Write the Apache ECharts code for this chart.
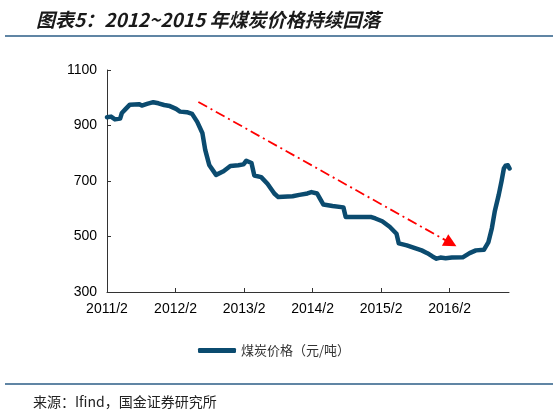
<!DOCTYPE html>
<html>
<head>
<meta charset="utf-8">
<script src="https://cdn.jsdelivr.net/npm/echarts@6/dist/echarts.min.js"></script>
<style>
  html, body { margin: 0; padding: 0; background: #fff; }
  #main { width: 559px; height: 417px; }
</style>
</head>
<body>
<div id="main"></div>
<script>
// x = months since 2011/2
var months = [0, 0.7, 1.4, 2.3, 2.6, 3.2, 4.0, 5.6, 6.1, 7.0, 8.1, 9.0, 10.0, 11.0, 12.1, 12.8,
    14.0, 14.9, 15.8, 16.7, 17.2, 17.9, 19.1, 20.4, 21.6, 23.0, 23.9, 24.4, 25.3, 25.8, 27.0,
    28.1, 29.3, 30.0, 32.5, 33.7, 35.1, 35.8, 36.8, 37.2, 37.9, 39.5, 41.4, 41.8, 46.3, 47.0,
    48.2, 49.5, 50.7, 51.1, 52.5, 55.1, 56.1, 57.0, 57.7, 58.4, 59.3, 60.4, 62.3, 63.5, 64.6,
    66.0, 66.8, 67.4, 67.9, 68.6, 69.1, 69.5, 69.8, 70.2, 70.5];
var prices = [930, 932, 922, 925, 945, 958, 975, 977, 972, 978, 984, 980, 974, 970, 960, 950,
    948, 942, 913, 873, 812, 758, 722, 735, 754, 757, 760, 773, 765, 720, 714,
    690, 655, 642, 645, 650, 655, 660, 655, 640, 615, 610, 605, 570, 570, 565,
    555, 535, 510, 475, 468, 450, 440, 428, 420, 424, 422, 424, 425, 440, 450,
    452, 480, 530, 590, 650, 700, 745, 755, 757, 745];
var tickMonths = [0, 12, 24, 36, 48, 60];
var tickLabels = ['2011/2', '2012/2', '2013/2', '2014/2', '2015/2', '2016/2'];
var trendFrom = [16.0, 985];
var trendTo = [60.2, 476];

var seriesData = [];
for (var i = 0; i < months.length; i++) {
    seriesData.push([months[i], prices[i]]);
}

var chart = echarts.init(document.getElementById('main'));
var option = {
    backgroundColor: '#fff',
    animation: false,
    title: {
        text: '图表5：2012~2015 年煤炭价格持续回落',
        left: 31,
        top: 5,
        textStyle: {
            fontFamily: 'Noto Sans CJK SC',
            fontSize: 19,
            fontStyle: 'italic',
            fontWeight: 'bold',
            color: '#1a1a1a'
        }
    },
    grid: { left: 107, right: 50, top: 70, bottom: 125 },
    legend: {
        data: ['煤炭价格（元/吨）'],
        left: 193,
        top: 339,
        icon: 'roundRect',
        itemWidth: 38,
        itemHeight: 5,
        itemGap: 5,
        textStyle: { fontFamily: 'Noto Sans CJK SC', fontSize: 13, color: '#333' }
    },
    xAxis: {
        type: 'value',
        min: 0,
        max: 70.4,
        splitLine: { show: false },
        axisLine: { lineStyle: { color: '#333', width: 1 } },
        axisTick: { inside: true, length: 4, customValues: tickMonths, lineStyle: { color: '#333' } },
        axisLabel: {
            customValues: tickMonths,
            formatter: function (v) {
                var idx = tickMonths.indexOf(v);
                return idx >= 0 ? tickLabels[idx] : '';
            },
            fontFamily: 'Liberation Sans',
            fontSize: 14,
            color: '#000',
            margin: 10
        }
    },
    yAxis: {
        type: 'value',
        min: 300,
        max: 1100,
        interval: 200,
        splitLine: { show: false },
        axisLine: { show: true, lineStyle: { color: '#333', width: 1 } },
        axisTick: { show: true, inside: true, length: 4, lineStyle: { color: '#333' } },
        axisLabel: {
            formatter: function (v) { return String(v); },
            fontFamily: 'Liberation Sans', fontSize: 14, color: '#000', margin: 10
        }
    },
    series: [{
        name: '煤炭价格（元/吨）',
        type: 'line',
        data: seriesData,
        showSymbol: false,
        color: '#0b4b6f',
        lineStyle: { width: 4.5, color: '#0b4b6f', join: 'round', cap: 'round' },
        markLine: {
            silent: true,
            symbol: ['none', 'triangle'],
            symbolSize: 13,
            label: { show: false },
            lineStyle: { color: '#ff0000', width: 1.8, type: [10, 4, 2, 4] },
            itemStyle: { color: '#ff0000' },
            data: [[{ coord: trendFrom }, { coord: trendTo }]]
        }
    }],
    graphic: [
        { type: 'line', shape: { x1: 5, y1: 36, x2: 553, y2: 36 }, style: { stroke: '#2b5d86', lineWidth: 1.5 } },
        { type: 'line', shape: { x1: 5, y1: 384, x2: 553, y2: 384 }, style: { stroke: '#2b5d86', lineWidth: 1.5 } },
        {
            type: 'text', left: 33, top: 395,
            style: { text: '来源：Ifind，国金证券研究所', font: '14px "Noto Sans CJK SC"', fill: '#222' }
        }
    ]
};
chart.setOption(option);
</script>
</body>
</html>
